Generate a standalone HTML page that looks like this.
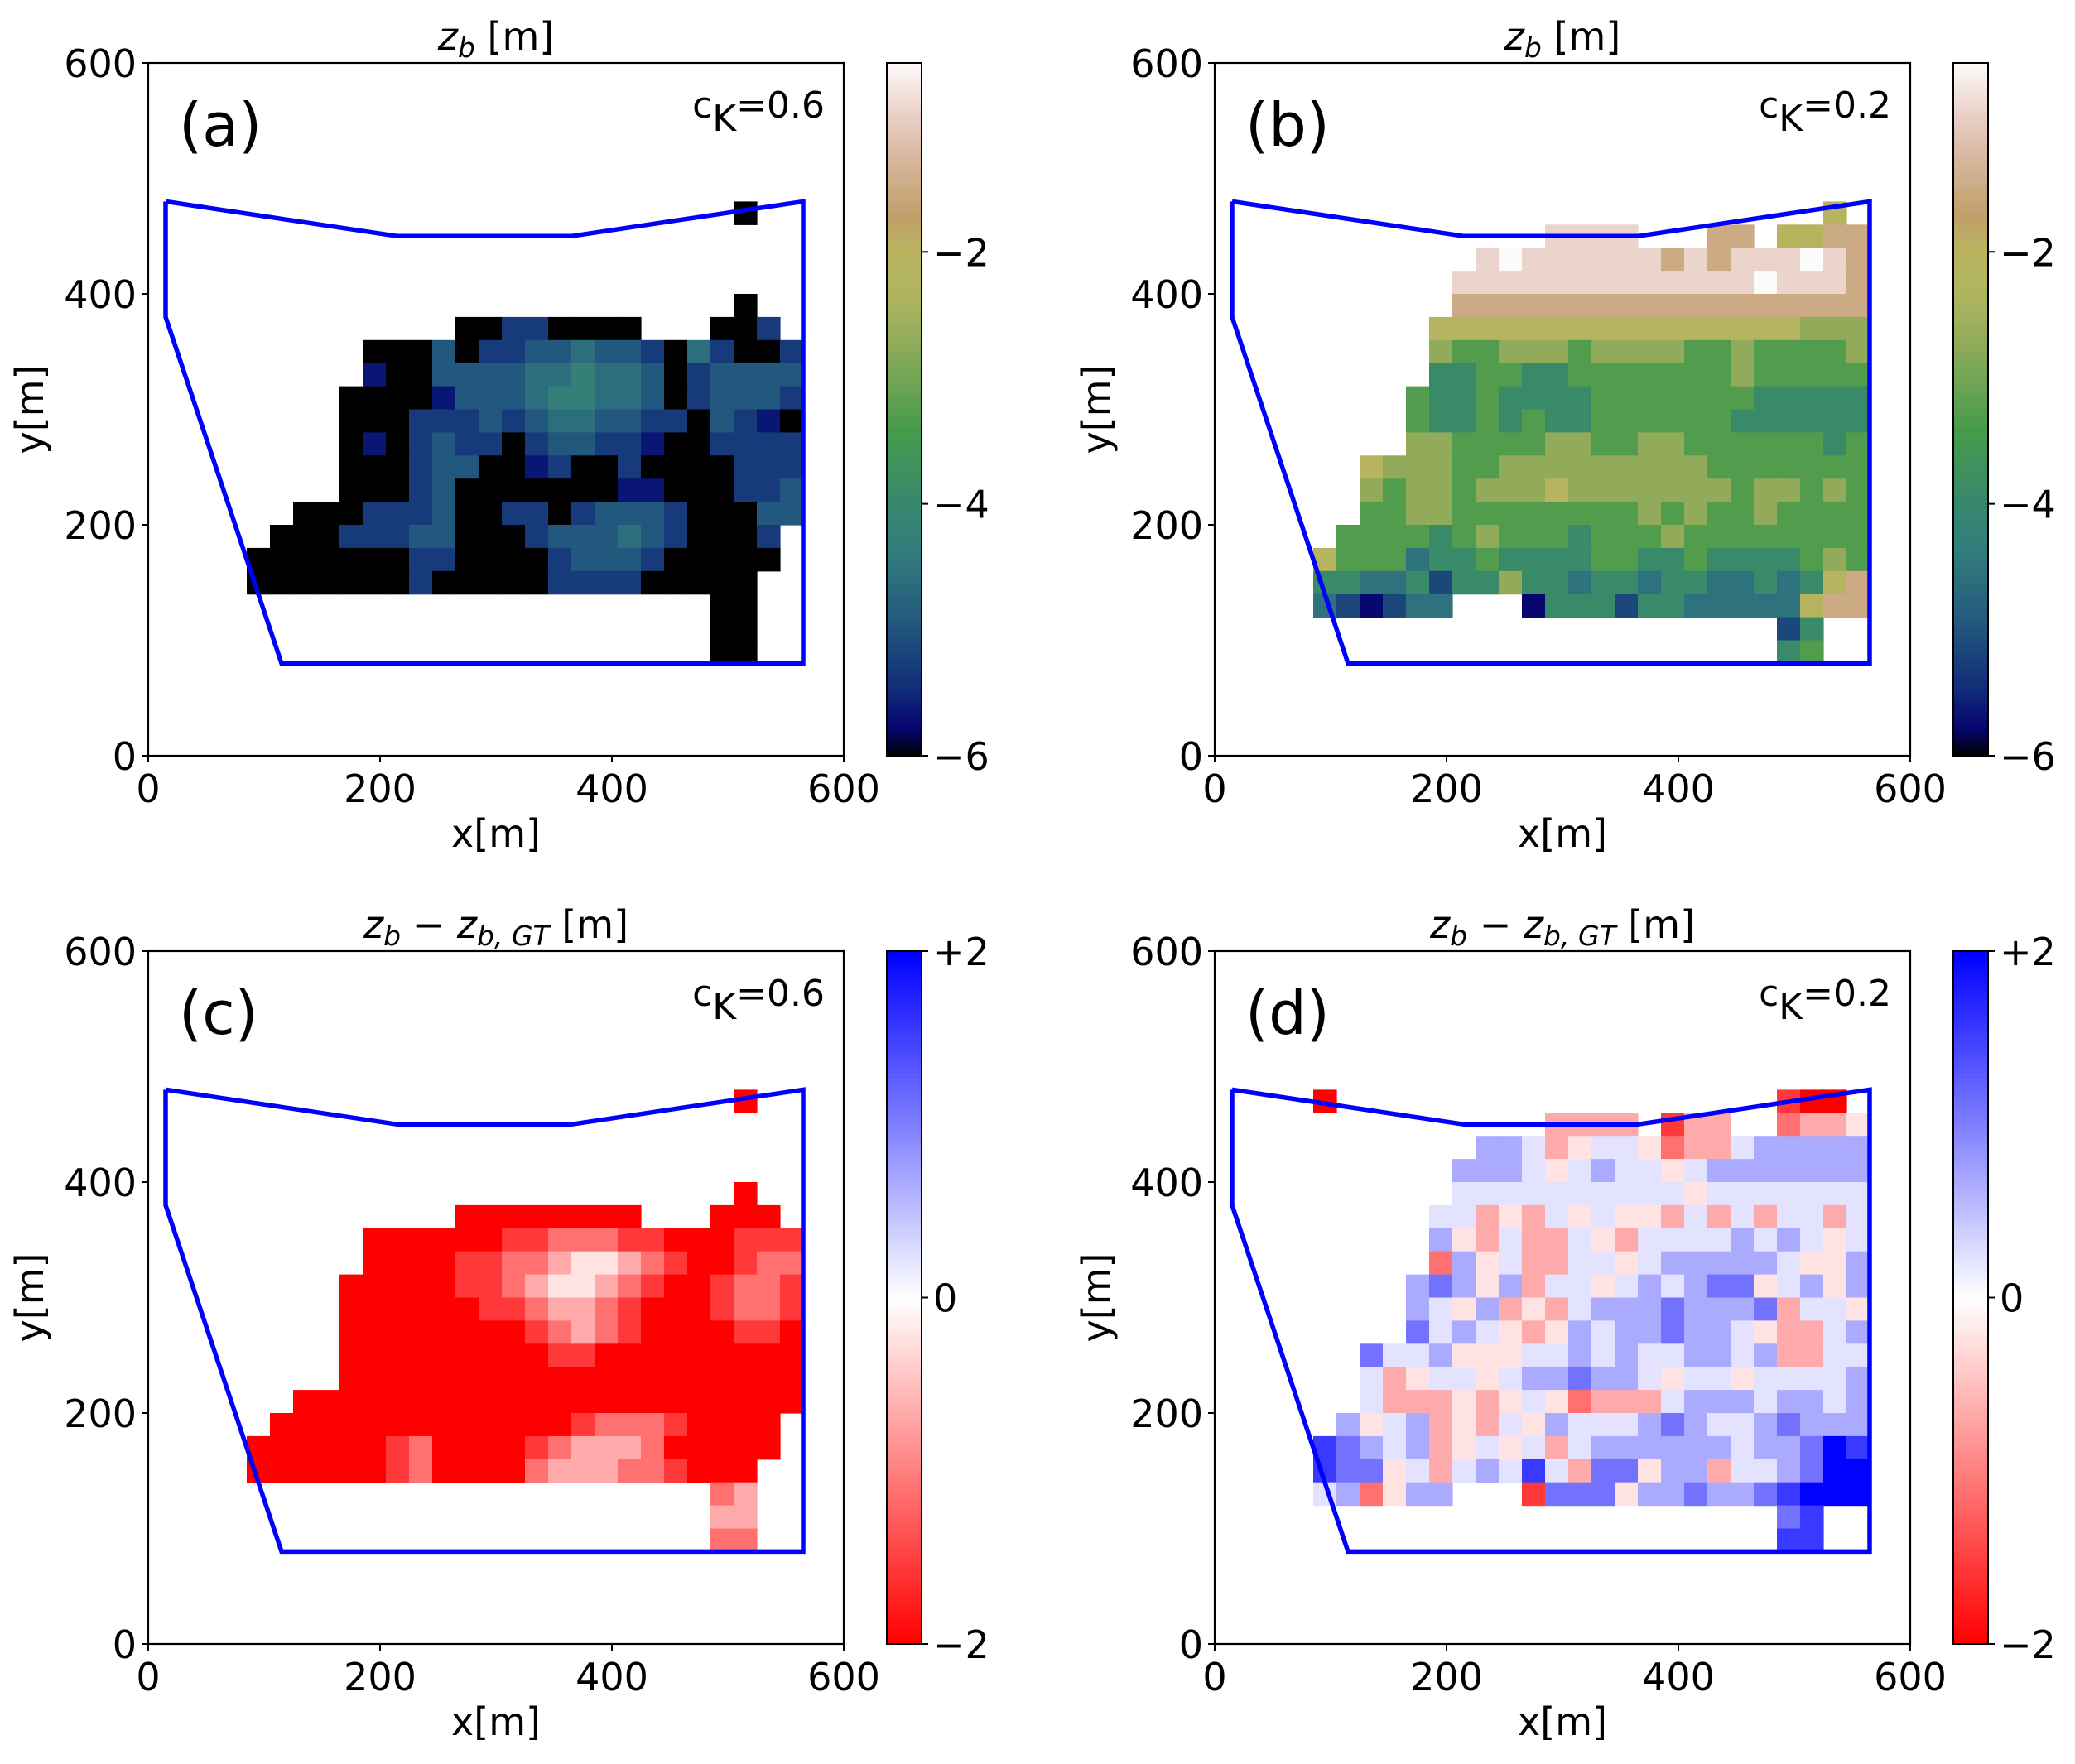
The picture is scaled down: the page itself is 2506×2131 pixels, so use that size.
<!DOCTYPE html>
<html><head><meta charset="utf-8"><style>
html,body{margin:0;padding:0;background:#fff;}
svg{display:block;font-family:"DejaVu Sans","Liberation Sans",sans-serif;}
</style></head><body>
<svg id="fig" width="2506" height="2131" viewBox="0 0 2506 2131" xmlns="http://www.w3.org/2000/svg"></svg>
<script>
// ---------- data (20 m cells; x centers 95..555, y centers 470..90; '.' = no data) ----------
const cellX = [95,115,135,155,175,195,215,235,255,275,295,315,335,355,375,395,415,435,455,475,495,515,535,555];
const cellY = [470,450,430,410,390,370,350,330,310,290,270,250,230,210,190,170,150,130,110,90];
const gridA = [
".....................0..",
"........................",
"........................",
"........................",
".....................0..",
".........00220000...002.",
".....0003022334332042002",
".....1003333445443023333",
"....00001333455443023332",
"....00022232344332203210",
"....01023220233221002222",
"....00023300120020000222",
"....00023000000011000223",
"..0002223002202333200033",
".0002223300023334320002.",
"00000002200002333200000.",
"0000000200000222200000..",
"....................00..",
"....................00..",
"....................00.."];
const gridB = [
"......................6.",
"..........8888...77.6677",
".......89888888787888987",
"......888888888888898887",
"......777777777777777777",
".....6666666666666666555",
".....5445554555544544445",
".....3344334444444544444",
"....43343333444444433333",
"....43343433444444333333",
"....55444455445544444434",
"..6555445555555554444444",
"..5455455565555555455454",
"..4455444444445454454444",
".44443454443444544444444",
"644423343333443343333454",
"332231335332332332232367",
"210122...033313322222677",
"....................13..",
"....................34.."];
const gridC = [
".....................0..",
"........................",
"........................",
"........................",
".....................0..",
".........00000000...000.",
".....0000001122211000111",
".....0000112234432100122",
"....00000112344321001221",
"....00000011233210001221",
"....00000000123210000110",
"....00000000011000000000",
"....00000000000000000000",
"..0000000000000000000000",
".0000000000000122210000.",
"00000012000012333200000.",
"0000001200002333221000..",
"....................23..",
"....................33..",
"....................22.."];
const gridD = [
"0...................100.",
"..........3333.133..2334",
".......66534554233566666",
"......666545655456666666",
"......555555555545555555",
".....5534354544353535535",
".....6435335435555656545",
".....2645335545666665446",
"....67646355456567745646",
"....65463435666766673554",
"....75654346566766543356",
"..7556444556565566563355",
"..5345545667665455455556",
"..5333434542333566656656",
".64563435465556765567666",
"876563454535666666566798",
"877453565853774663556799",
"562466...177746676678999",
"....................78..",
"....................88.."];
// colour-scale limits
const rangeZ = [-6, -0.5];
const rangeDiff = [-2, 2];
// metres per grid level, and level offset, for each panel (a,b,c,d)
const levelStep = [0.35, 0.611, 0.444, 0.444];
const levelOffset = [0, 0.4, 0, 0];
// tick values
const axisTicks = [0, 200, 400, 600];
const cbTicksZ = [-2, -4, -6];
const cbTickLabelsZ = ["\u22122", "\u22124", "\u22126"];
const cbTicksDiff = [2, 0, -2];
const cbTickLabelsDiff = ["+2", "0", "\u22122"];
// domain boundary polygon (m)
const boundaryX = [15, 215, 365, 565, 565, 115, 15, 15];
const boundaryY = [480, 450, 450, 480, 80, 80, 380, 480];

// ---------- colour maps ----------
const earthStops = [[0,0,0,0],[0.04,5,5,110],[0.09,15,40,120],[0.195,35,90,125],[0.30,50,125,125],[0.36,55,135,110],[0.47,70,155,75],[0.59,140,170,90],[0.66,175,180,95],[0.727,185,180,95],[0.78,192,160,105],[0.85,212,178,150],[0.92,232,205,195],[1,253,250,250]];
function earth(t){t=Math.max(0,Math.min(1,t));for(let i=1;i<earthStops.length;i++){const a=earthStops[i-1],b=earthStops[i];if(t<=b[0]){const f=(t-a[0])/(b[0]-a[0]);return `rgb(${Math.round(a[1]+f*(b[1]-a[1]))},${Math.round(a[2]+f*(b[2]-a[2]))},${Math.round(a[3]+f*(b[3]-a[3]))})`;}}return 'rgb(253,250,250)';}
function bwr(t){t=Math.max(0,Math.min(1,t));if(t<0.5){const f=t/0.5;return `rgb(255,${Math.round(255*f)},${Math.round(255*f)})`;}const f=(t-0.5)/0.5;return `rgb(${Math.round(255*(1-f))},${Math.round(255*(1-f))},255)`;}

const NS='http://www.w3.org/2000/svg';
const svg=document.getElementById('fig');
function mk(tag,attrs,parent){const e=document.createElementNS(NS,tag);for(const k in attrs)e.setAttribute(k,attrs[k]);(parent||svg).appendChild(e);return e;}

const W=840,H=837;
const panels=[
 {L:179,T:76,grid:gridA,cmap:earth,range:rangeZ,ticks:cbTicksZ,labels:cbTickLabelsZ,tag:'(a)',ck:'0.6',diff:false,name:'panel-a'},
 {L:1467,T:76,grid:gridB,cmap:earth,range:rangeZ,ticks:cbTicksZ,labels:cbTickLabelsZ,tag:'(b)',ck:'0.2',diff:false,name:'panel-b'},
 {L:179,T:1149,grid:gridC,cmap:bwr,range:rangeDiff,ticks:cbTicksDiff,labels:cbTickLabelsDiff,tag:'(c)',ck:'0.6',diff:true,name:'panel-c'},
 {L:1467,T:1149,grid:gridD,cmap:bwr,range:rangeDiff,ticks:cbTicksDiff,labels:cbTickLabelsDiff,tag:'(d)',ck:'0.2',diff:true,name:'panel-d'}];

panels.forEach((p,pi)=>{
 const g=mk('g',{});
 
 
 const sx=v=>p.L+v/600*W, sy=v=>p.T+H-v/600*H;
 const cw=20/600*W, ch=20/600*H;
 const cells=mk('g',{},g);
 
 
 p.grid.forEach((row,ri)=>{
  for(let ci=0;ci<cellX.length;ci++){
   const c=row[ci]; if(c===undefined||c==='.')continue;
   const lv=+c; const val=p.range[0]+(lv+levelOffset[pi])*levelStep[pi];
   const t=(val-p.range[0])/(p.range[1]-p.range[0]);
   const r=mk('rect',{x:(sx(cellX[ci])-cw/2).toFixed(1),y:(sy(cellY[ri])-ch/2).toFixed(1),width:(cw+0.6).toFixed(1),height:(ch+0.6).toFixed(1),fill:p.cmap(t)},cells);
   
   
  }
 });
 // boundary
 let d=''; boundaryX.forEach((x,i)=>{d+=(i?'L':'M')+sx(x).toFixed(1)+' '+sy(boundaryY[i]).toFixed(1);});
 const poly=mk('path',{d:d,fill:'none',stroke:'#0000ff','stroke-width':5.5,'stroke-linejoin':'miter'},g);
 
 
 // axes frame
 const fr=mk('rect',{x:p.L,y:p.T,width:W,height:H,fill:'none',stroke:'#000','stroke-width':2.2},g);
 
 
 axisTicks.forEach(v=>{
  mk('line',{x1:sx(v),x2:sx(v),y1:p.T+H,y2:p.T+H+8,stroke:'#000','stroke-width':2},g);
  const tx=mk('text',{x:sx(v),y:p.T+H+56,'font-size':46,'text-anchor':'middle'},g); tx.textContent=v;
  
  
  mk('line',{x1:p.L-8,x2:p.L,y1:sy(v),y2:sy(v),stroke:'#000','stroke-width':2},g);
  const ty=mk('text',{x:p.L-14,y:sy(v)+17,'font-size':46,'text-anchor':'end'},g); ty.textContent=v;
  
  
 });
 const xl=mk('text',{x:p.L+W/2,y:p.T+H+110,'font-size':46,'text-anchor':'middle'},g); xl.textContent='x[m]';
 
 
 const yl=mk('text',{x:0,y:0,'font-size':46,'text-anchor':'middle',transform:`translate(${p.L-127},${p.T+H/2}) rotate(-90)`},g); yl.textContent='y[m]';
 
 
 // title
 const ti=mk('text',{x:p.L+W/2,y:p.T-16,'font-size':46,'text-anchor':'middle'},g);
 
 
 if(!p.diff){
  ti.innerHTML='<tspan font-style="italic">z</tspan><tspan font-style="italic" font-size="33" dy="9">b</tspan><tspan dy="-9"> [m]</tspan>';
 } else {
  ti.innerHTML='<tspan font-style="italic">z</tspan><tspan font-style="italic" font-size="33" dy="9">b</tspan><tspan dy="-9"> \u2212 </tspan><tspan font-style="italic">z</tspan><tspan font-style="italic" font-size="33" dy="9">b, GT</tspan><tspan dy="-9"> [m]</tspan>';
 }
 const tg=mk('text',{x:p.L+37,y:p.T+100,'font-size':72},g); tg.textContent=p.tag;
 
 
 const ck=mk('text',{x:p.L+W-23,y:p.T+66,'font-size':44,'text-anchor':'end'},g);
 ck.innerHTML='c<tspan font-size="44" dy="16">K</tspan><tspan dy="-16">='+p.ck+'</tspan>';
 
 
 // colorbar
 const cx=p.L+892, cwid=42;
 const cb=mk('g',{},g);
 
 
 const nS=120;
 for(let i=0;i<nS;i++){
  const t=(i+0.5)/nS;
  mk('rect',{x:cx,y:(p.T+H-(i+1)*H/nS).toFixed(2),width:cwid,height:(H/nS+0.8).toFixed(2),fill:p.cmap(t)},cb);
 }
 mk('rect',{x:cx,y:p.T,width:cwid,height:H,fill:'none',stroke:'#000','stroke-width':2},cb);
 p.ticks.forEach((v,i)=>{
  const y=p.T+H-(v-p.range[0])/(p.range[1]-p.range[0])*H;
  mk('line',{x1:cx+cwid,x2:cx+cwid+8,y1:y,y2:y,stroke:'#000','stroke-width':2},cb);
  const t=mk('text',{x:cx+cwid+14,y:y+17,'font-size':46},cb); t.textContent=p.labels[i];
  
  
 });
});
</script>
</body></html>
